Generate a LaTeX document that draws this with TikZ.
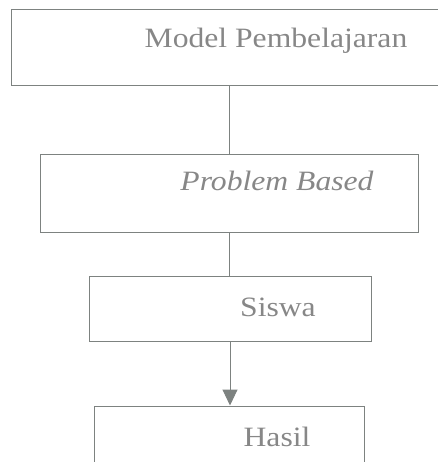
\documentclass[tikz,border=0pt]{standalone}
\usepackage{fontspec}
\setmainfont{Liberation Serif}[FakeStretch=1.13]
\usetikzlibrary{arrows.meta}
\definecolor{linegray}{RGB}{125,130,128}
\definecolor{textgray}{RGB}{135,135,135}
\tikzset{
  box/.style={draw=linegray, line width=1pt, minimum width=#1, inner sep=0pt},
  txt/.style={text=textgray, anchor=base, inner sep=0pt, font=\fontsize{28}{32}\selectfont},
  link/.style={draw=linegray, line width=1pt}
}
\begin{document}
\begin{tikzpicture}[x=1pt,y=-1pt]
      \useasboundingbox (0,0) rectangle (437,462);

      \node[box=480pt, minimum height=76pt]  (model)   at (251,48)    {};
      \node[box=378pt, minimum height=77pt]  (problem) at (229,193.5) {};
      \node[box=282pt, minimum height=65pt]  (siswa)   at (230,308.5) {};
      \node[box=270pt, minimum height=70pt]  (hasil)   at (229,441)   {};

      \node[txt] (modelT)   at (276,48)  {Model Pembelajaran};
      \node[txt] (problemT) at (277,190) {\itshape Problem Based};
      \node[txt] (siswaT)   at (278,316) {Siswa};
      \node[txt] (hasilT)   at (277,446) {Hasil};

      \draw[link] (problem.north |- model.south) -- (problem.north);
      \draw[link] (problem.south) -- (problem.south |- siswa.north);
      \draw[link, -{Triangle[length=16pt, width=15pt]}] (siswa.south) -- (siswa.south |- hasil.north);
    \end{tikzpicture}
\end{document}
